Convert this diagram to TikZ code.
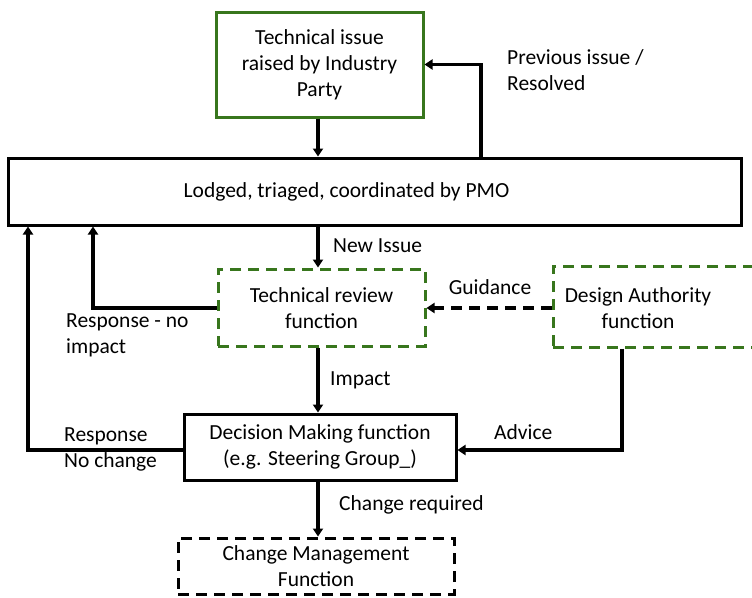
\documentclass[tikz,border=0pt]{standalone}
\usepackage{fontspec}
\setmainfont{Carlito}
\usetikzlibrary{arrows.meta}
\definecolor{boxgreen}{RGB}{56,118,29}
\tikzset{
  txt/.style={font=\fontsize{21.5}{26}\selectfont, align=center, inner sep=0pt},
  ltxt/.style={font=\fontsize{21.5}{26}\selectfont, align=left, inner sep=0pt, anchor=west},
  solidbox/.style={draw, line width=3pt, inner sep=0pt},
  greenbox/.style={draw=boxgreen, line width=3pt, inner sep=0pt},
  greendash/.style={draw=boxgreen, line width=3pt, dash pattern=on 11pt off 7pt, inner sep=0pt},
  blackdash/.style={draw, line width=3pt, dash pattern=on 11pt off 7pt, inner sep=0pt},
  conn/.style={line width=3.2pt, -{Triangle[length=8pt,width=10pt]}},
}
\begin{document}
\begin{tikzpicture}[x=1pt,y=-1pt]
\useasboundingbox (0,0) rectangle (752,597);
\clip (0,0) rectangle (752,597);
% nodes
\node[greenbox, minimum width=207pt, minimum height=105pt] (top) at (319.5,64.5) {};
\node[txt] at (319.5,64.5) {Technical issue\\raised by Industry\\Party};
\node[solidbox, minimum width=733pt, minimum height=67pt] (pmo) at (374.5,191.5) {};
\node[txt] at (346.5,192) {Lodged, triaged, coordinated by PMO};
\node[greendash, minimum width=207pt, minimum height=77pt] (tr) at (321.5,307.5) {};
\node[txt] at (321.5,308) {Technical review\\function};
\node[greendash, minimum width=222pt, minimum height=81pt] (da) at (664,306.5) {};
\node[txt] at (638,308) {Design Authority\\function};
\node[solidbox, minimum width=272pt, minimum height=66pt] (dm) at (320,447) {};
\node[txt] at (320,447) {Decision Making function\\(e.g. Steering Group\_)};
\node[blackdash, minimum width=276pt, minimum height=56pt] (cm) at (316,566) {};
\node[txt] at (316,566) {Change Management\\Function};
% connectors
\draw[conn] (top.south -| 318,0) -- (pmo.north -| 318,0);
\draw[conn] (pmo.north -| 481,0) |- (top.east);
\draw[conn] (pmo.south -| 318,0) -- (tr.north -| 318,0);
\draw[conn, dash pattern=on 11pt off 7pt] (da.west |- 0,308) -- (tr.east |- 0,308);
\draw[conn] (tr.west |- 0,308) -| (pmo.south -| 93,0);
\draw[conn] (tr.south -| 318,0) -- (dm.north -| 318,0);
\draw[conn] (da.south -| 622,0) |- (dm.east |- 0,450);
\draw[conn] (dm.west |- 0,450) -| (pmo.south -| 28,0);
\draw[conn] (dm.south -| 318,0) -- (cm.north -| 318,0);
% labels
\node[ltxt] at (507,70) {Previous issue /\\Resolved};
\node[ltxt] at (333,246) {New Issue};
\node[txt] at (490,287) {Guidance};
\node[ltxt] at (66,335) {Response - no\\impact};
\node[ltxt] at (330,380) {Impact};
\node[ltxt] at (494,432) {Advice};
\node[ltxt] at (64,449) {Response\\No change};
\node[ltxt] at (339,505) {Change required};
\end{tikzpicture}
\end{document}
